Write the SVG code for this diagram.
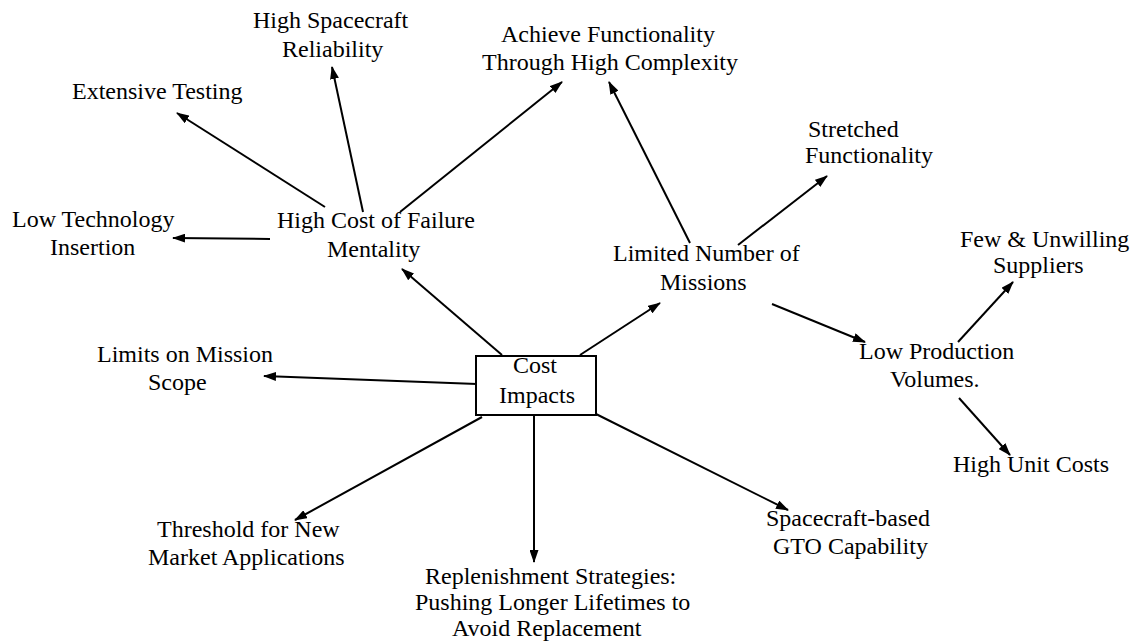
<svg xmlns="http://www.w3.org/2000/svg" width="1141" height="643" viewBox="0 0 1141 643">
  <style>
    .lbl { font-family: "Liberation Serif", "Times New Roman", serif; font-size: 24px; fill: #000; }
    .mid { text-anchor: middle; }
    .edge { stroke: #000; stroke-width: 2; fill: none; marker-end: url(#arrow); }
    .box { fill: #fff; stroke: #000; stroke-width: 2; }
  </style>
  <defs>
    <marker id="arrow" markerUnits="userSpaceOnUse" markerWidth="13" markerHeight="9" refX="12" refY="4.5" orient="auto">
      <path d="M0,0 L13,4.5 L0,9 z" fill="#000"/>
    </marker>
  </defs>
  <rect width="1141" height="643" fill="#fff"/>

  <!-- connectors -->
  <g id="connectors">
    <line class="edge" x1="502" y1="355" x2="402" y2="269"/>
    <line class="edge" x1="325" y1="207" x2="177" y2="113"/>
    <line class="edge" x1="363" y1="212" x2="332" y2="67"/>
    <line class="edge" x1="400" y1="212" x2="562" y2="82"/>
    <line class="edge" x1="270" y1="239" x2="173" y2="238"/>
    <line class="edge" x1="690" y1="243" x2="609" y2="82"/>
    <line class="edge" x1="738" y1="245" x2="827" y2="176"/>
    <line class="edge" x1="580" y1="355" x2="660" y2="303"/>
    <line class="edge" x1="772" y1="304" x2="865" y2="342"/>
    <line class="edge" x1="958" y1="342" x2="1013" y2="282"/>
    <line class="edge" x1="959" y1="398" x2="1010" y2="455"/>
    <line class="edge" x1="477" y1="384" x2="264" y2="376"/>
    <line class="edge" x1="482" y1="417" x2="295" y2="520"/>
    <line class="edge" x1="534" y1="415" x2="534" y2="562"/>
    <line class="edge" x1="596" y1="414" x2="788" y2="510"/>
  </g>

  <!-- central node -->
  <g id="cost-impacts">
    <rect class="box" x="476" y="356" width="120" height="59"/>
    <text class="lbl mid" x="535" y="373">Cost</text>
    <text class="lbl mid" x="537" y="403">Impacts</text>
  </g>

  <g id="high-cost-of-failure">
    <text class="lbl" x="277" y="228">High Cost of Failure</text>
    <text class="lbl" x="327" y="257">Mentality</text>
  </g>

  <g id="high-reliability">
    <text class="lbl" x="253" y="28">High Spacecraft</text>
    <text class="lbl" x="282" y="57">Reliability</text>
  </g>

  <g id="extensive-testing">
    <text class="lbl" x="72" y="99">Extensive Testing</text>
  </g>

  <g id="low-technology">
    <text class="lbl" x="12" y="227">Low Technology</text>
    <text class="lbl" x="50" y="255">Insertion</text>
  </g>

  <g id="achieve-functionality">
    <text class="lbl" x="501" y="42">Achieve Functionality</text>
    <text class="lbl" x="482" y="70">Through High Complexity</text>
  </g>

  <g id="stretched-functionality">
    <text class="lbl" x="808" y="137">Stretched</text>
    <text class="lbl" x="805" y="163">Functionality</text>
  </g>

  <g id="limited-missions">
    <text class="lbl" x="613" y="261">Limited Number of</text>
    <text class="lbl" x="660" y="290">Missions</text>
  </g>

  <g id="few-suppliers">
    <text class="lbl" x="960" y="247">Few &amp; Unwilling</text>
    <text class="lbl" x="993" y="273">Suppliers</text>
  </g>

  <g id="low-production">
    <text class="lbl" x="859" y="359">Low Production</text>
    <text class="lbl" x="890" y="387">Volumes.</text>
  </g>

  <g id="high-unit-costs">
    <text class="lbl" x="953" y="472">High Unit Costs</text>
  </g>

  <g id="mission-scope">
    <text class="lbl" x="97" y="362">Limits on Mission</text>
    <text class="lbl" x="148" y="390">Scope</text>
  </g>

  <g id="market-threshold">
    <text class="lbl" x="157" y="537">Threshold for New</text>
    <text class="lbl" x="148" y="565">Market Applications</text>
  </g>

  <g id="replenishment">
    <text class="lbl" x="425" y="584">Replenishment Strategies:</text>
    <text class="lbl" x="415" y="610">Pushing Longer Lifetimes to</text>
    <text class="lbl" x="452" y="636">Avoid Replacement</text>
  </g>

  <g id="gto-capability">
    <text class="lbl" x="766" y="526">Spacecraft-based</text>
    <text class="lbl" x="773" y="554">GTO Capability</text>
  </g>
</svg>
